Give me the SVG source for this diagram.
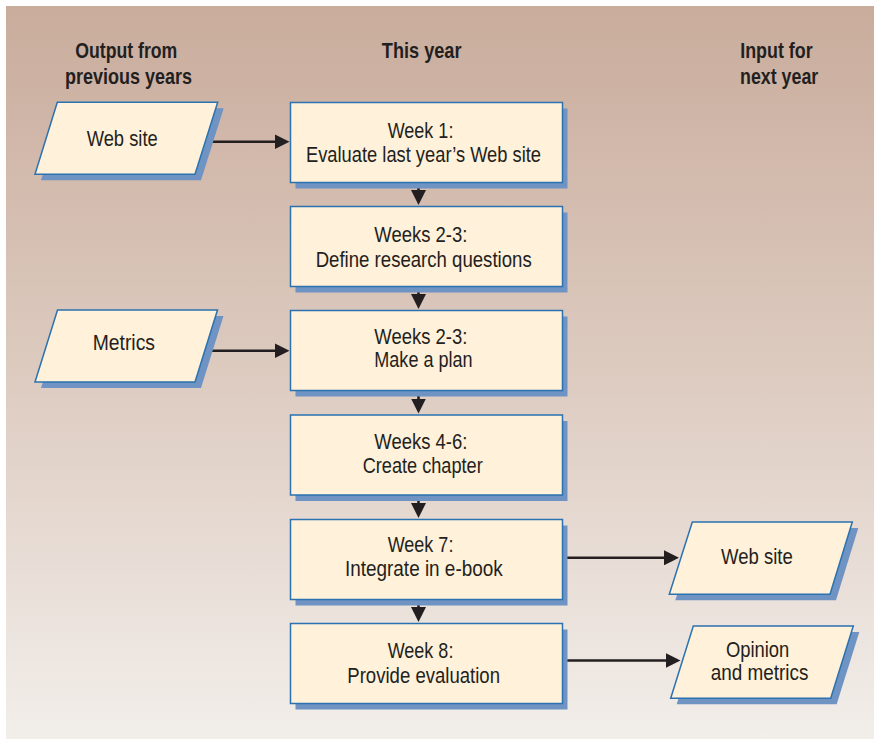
<svg xmlns="http://www.w3.org/2000/svg" width="874" height="742" viewBox="0 0 874 742">
<defs>
<linearGradient id="bg" x1="0" y1="0" x2="0" y2="1">
<stop offset="0" stop-color="#C9AC9C"/>
<stop offset="0.5" stop-color="#DDCBC0"/>
<stop offset="1" stop-color="#F2EEEA"/>
</linearGradient>
<marker id="ah" markerUnits="userSpaceOnUse" markerWidth="15" markerHeight="15" refX="2" refY="7.5" orient="auto">
<path d="M0,0 L15,7.5 L0,15 z" fill="#231F20"/>
</marker>
<style>
.box{fill:#FFF1DA;stroke:#2A72B0;stroke-width:1.5}
.sh{fill:#6F93C3}
.t{font-family:"Liberation Sans",Arial,sans-serif;font-size:21.5px;fill:#231F20}
.h{font-family:"Liberation Sans",Arial,sans-serif;font-size:22.5px;font-weight:bold;fill:#231F20}
.c{stroke:#231F20;stroke-width:2.6;fill:none;marker-end:url(#ah)}
</style>
</defs>
<rect x="0" y="0" width="874" height="742" fill="#FFFFFF"/>
<rect x="6" y="6" width="868" height="733" fill="url(#bg)"/>
<g id="headers">
<text class="h" x="75.3" y="58" textLength="102" lengthAdjust="spacingAndGlyphs">Output from</text>
<text class="h" x="65" y="84.3" textLength="127" lengthAdjust="spacingAndGlyphs">previous years</text>
<text class="h" x="381.8" y="58" textLength="79.7" lengthAdjust="spacingAndGlyphs">This year</text>
<text class="h" x="740.2" y="58" textLength="72.5" lengthAdjust="spacingAndGlyphs">Input for</text>
<text class="h" x="740" y="84.3" textLength="78.3" lengthAdjust="spacingAndGlyphs">next year</text>
</g>
<g id="connectors">
<line class="c" x1="205" y1="141.7" x2="276.5" y2="141.7"/>
<line class="c" x1="204" y1="350.7" x2="276.5" y2="350.7"/>
<line class="c" x1="563" y1="557.8" x2="666" y2="557.8"/>
<line class="c" x1="563" y1="660.5" x2="667.5" y2="660.5"/>
<line class="c" x1="418.5" y1="182.5" x2="418.5" y2="192"/>
<line class="c" x1="418.5" y1="286.5" x2="418.5" y2="296"/>
<line class="c" x1="418.5" y1="390.5" x2="418.5" y2="400.5"/>
<line class="c" x1="418.5" y1="495" x2="418.5" y2="505"/>
<line class="c" x1="418.5" y1="599.5" x2="418.5" y2="609"/>
</g>
<g id="in-website">
<polygon class="sh" points="63.3,108.3 223.7,108.3 201,180.3 41,180.3"/>
<polygon class="box" points="57.3,102.3 217.7,102.3 195,174.3 35,174.3"/>
<text class="t" x="86.7" y="145.7" textLength="71" lengthAdjust="spacingAndGlyphs">Web site</text>
</g>
<g id="in-metrics">
<polygon class="sh" points="63.5,316 223.5,316 201,388 41,388"/>
<polygon class="box" points="57.5,310 217.5,310 195,382 35,382"/>
<text class="t" x="92.7" y="350" textLength="62.3" lengthAdjust="spacingAndGlyphs">Metrics</text>
</g>
<g id="week1">
<rect class="sh" x="295.5" y="108.5" width="272" height="80"/>
<rect class="box" x="290.5" y="102.5" width="272" height="80"/>
<text class="t" x="387.7" y="137.7" textLength="65.7" lengthAdjust="spacingAndGlyphs">Week 1:</text>
<text class="t" x="306" y="161.7" textLength="235" lengthAdjust="spacingAndGlyphs">Evaluate last year’s Web site</text>
</g>
<g id="weeks23a">
<rect class="sh" x="295.5" y="212.5" width="272" height="80"/>
<rect class="box" x="290.5" y="206.5" width="272" height="80"/>
<text class="t" x="374.3" y="242.3" textLength="93" lengthAdjust="spacingAndGlyphs">Weeks 2-3:</text>
<text class="t" x="315.7" y="266.7" textLength="216" lengthAdjust="spacingAndGlyphs">Define research questions</text>
</g>
<g id="weeks23b">
<rect class="sh" x="295.5" y="316.5" width="272" height="80"/>
<rect class="box" x="290.5" y="310.5" width="272" height="80"/>
<text class="t" x="374.3" y="343.8" textLength="93" lengthAdjust="spacingAndGlyphs">Weeks 2-3:</text>
<text class="t" x="374.3" y="366.7" textLength="98.3" lengthAdjust="spacingAndGlyphs">Make a plan</text>
</g>
<g id="weeks46">
<rect class="sh" x="295.5" y="421" width="272" height="80"/>
<rect class="box" x="290.5" y="415" width="272" height="80"/>
<text class="t" x="374.3" y="449.3" textLength="93" lengthAdjust="spacingAndGlyphs">Weeks 4-6:</text>
<text class="t" x="362.7" y="472.7" textLength="120" lengthAdjust="spacingAndGlyphs">Create chapter</text>
</g>
<g id="week7">
<rect class="sh" x="295.5" y="525.5" width="272" height="80"/>
<rect class="box" x="290.5" y="519.5" width="272" height="80"/>
<text class="t" x="387.7" y="551.7" textLength="65.7" lengthAdjust="spacingAndGlyphs">Week 7:</text>
<text class="t" x="345" y="576" textLength="157.7" lengthAdjust="spacingAndGlyphs">Integrate in e-book</text>
</g>
<g id="week8">
<rect class="sh" x="295.5" y="629.5" width="272" height="80"/>
<rect class="box" x="290.5" y="623.5" width="272" height="80"/>
<text class="t" x="387.7" y="658.3" textLength="65.7" lengthAdjust="spacingAndGlyphs">Week 8:</text>
<text class="t" x="347.3" y="682.7" textLength="152.7" lengthAdjust="spacingAndGlyphs">Provide evaluation</text>
</g>
<g id="out-website">
<polygon class="sh" points="698.3,528 858.3,528 836,600.3 675.3,600.3"/>
<polygon class="box" points="692.3,522 852.3,522 830,594.3 669.3,594.3"/>
<text class="t" x="721" y="564.3" textLength="71.7" lengthAdjust="spacingAndGlyphs">Web site</text>
</g>
<g id="out-opinion">
<polygon class="sh" points="699.3,632 859.3,632 836.7,704.3 676.7,704.3"/>
<polygon class="box" points="693.3,626 853.3,626 830.7,698.3 670.7,698.3"/>
<text class="t" x="726" y="656.7" textLength="63.3" lengthAdjust="spacingAndGlyphs">Opinion</text>
<text class="t" x="710.7" y="680" textLength="97.7" lengthAdjust="spacingAndGlyphs">and metrics</text>
</g>
</svg>
